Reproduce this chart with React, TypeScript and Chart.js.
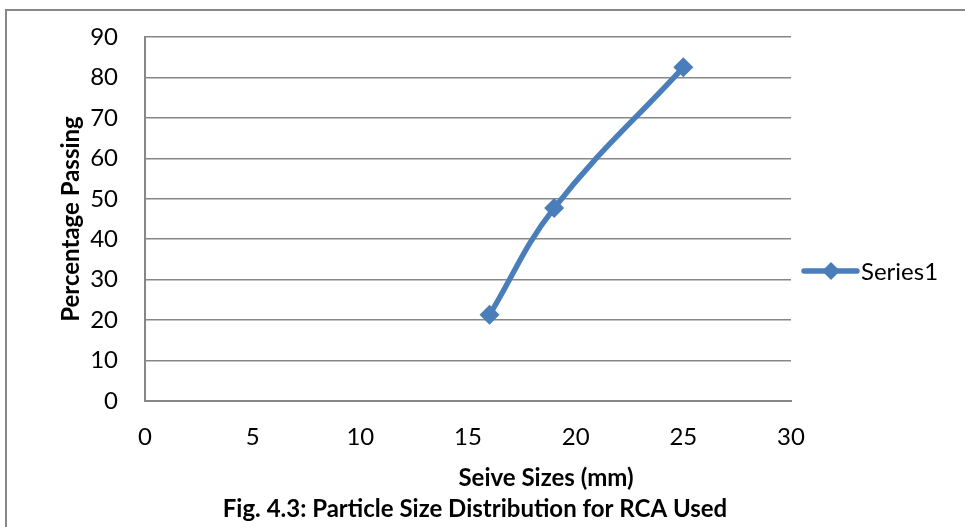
import React, { useEffect, useRef } from "react";
import { Chart, registerables } from "chart.js";

Chart.register(...registerables);

const sieveSizes = [16, 19, 25];
const percentPassing = [21.3, 47.7, 82.5];
const seriesName = "Series1";
const xTitle = "Seive Sizes (mm)";
const yTitle = "Percentage Passing";
const caption = "Fig. 4.3: Particle Size Distribution for RCA Used";

const FONT = "Lato, 'Open Sans', sans-serif";
const BLUE = "#4a7ebb";
const GRID = "#878787";

export default function App() {
  const ref = useRef<HTMLCanvasElement | null>(null);
  useEffect(() => {
    document.body.style.margin = "0";
    const deco = {
      id: "deco",
      beforeDraw(chart: any) {
        const c = chart.ctx;
        c.save();
        c.fillStyle = "#fff";
        c.fillRect(0, 0, chart.width, chart.height);
        c.strokeStyle = GRID;
        c.lineWidth = 2;
        c.beginPath();
        c.moveTo(6, chart.height + 5);
        c.lineTo(6, 10);
        c.lineTo(chart.width + 5, 10);
        c.stroke();
        c.restore();
      },
      afterDraw(chart: any) {
        const c = chart.ctx;
        const ca = chart.chartArea;
        c.save();
        c.fillStyle = "#000";
        c.textBaseline = "middle";
        c.textAlign = "center";
        c.font = `bold 24px ${FONT}`;
        c.fillText(xTitle, 546, 478);
        c.fillText(caption, 475, 509);
        c.save();
        c.translate(71, (ca.top + ca.bottom) / 2);
        c.rotate(-Math.PI / 2);
        c.fillText(yTitle, 0, 0);
        c.restore();
        // legend
        const ly = 271;
        c.strokeStyle = BLUE;
        c.lineWidth = 5.5;
        c.lineCap = "round";
        c.beginPath();
        c.moveTo(804, ly);
        c.lineTo(857, ly);
        c.stroke();
        c.fillStyle = BLUE;
        c.beginPath();
        c.moveTo(831, ly - 9);
        c.lineTo(840, ly);
        c.lineTo(831, ly + 9);
        c.lineTo(822, ly);
        c.closePath();
        c.fill();
        c.fillStyle = "#000";
        c.textAlign = "left";
        c.font = `24px ${FONT}`;
        c.fillText(seriesName, 861, ly + 1);
        c.restore();
      },
    };
    const chart = new Chart(ref.current!, {
      type: "scatter",
      data: {
        datasets: [
          {
            label: seriesName,
            data: sieveSizes.map((x, i) => ({ x, y: percentPassing[i] })),
            showLine: true,
            borderColor: BLUE,
            backgroundColor: BLUE,
            borderWidth: 5.5,
            tension: 0.4,
            pointStyle: "rectRot",
            pointRadius: 10,
            pointBorderWidth: 0,
          },
        ],
      },
      options: {
        animation: false,
        responsive: false,
        layout: { padding: { left: 0, right: 174, top: 37, bottom: 0 } },
        plugins: { legend: { display: false }, tooltip: { enabled: false } },
        scales: {
          x: {
            type: "linear",
            min: 0,
            max: 30,
            ticks: { stepSize: 5, color: "#000", font: { family: FONT, size: 24 }, padding: 22 },
            grid: { display: false, drawTicks: false },
            border: { color: GRID, width: 2 },
            afterFit(s: any) {
              s.height = 527 - 401;
              s.paddingLeft = 0;
              s.paddingRight = 0;
            },
          },
          y: {
            min: 0,
            max: 90,
            ticks: { stepSize: 10, color: "#000", font: { family: FONT, size: 24 }, padding: 27 },
            grid: { color: GRID, lineWidth: 1.5, drawTicks: false },
            border: { color: GRID, width: 2 },
            afterFit(s: any) {
              s.width = 145;
              s.paddingTop = 0;
              s.paddingBottom = 0;
            },
          },
        },
      },
      plugins: [deco],
    } as any);
    return () => chart.destroy();
  }, []);
  return (
    <div style={{ position: "absolute", left: 0, top: 0, width: 965, height: 527 }}>
      <canvas ref={ref} width={965} height={527} />
    </div>
  );
}
